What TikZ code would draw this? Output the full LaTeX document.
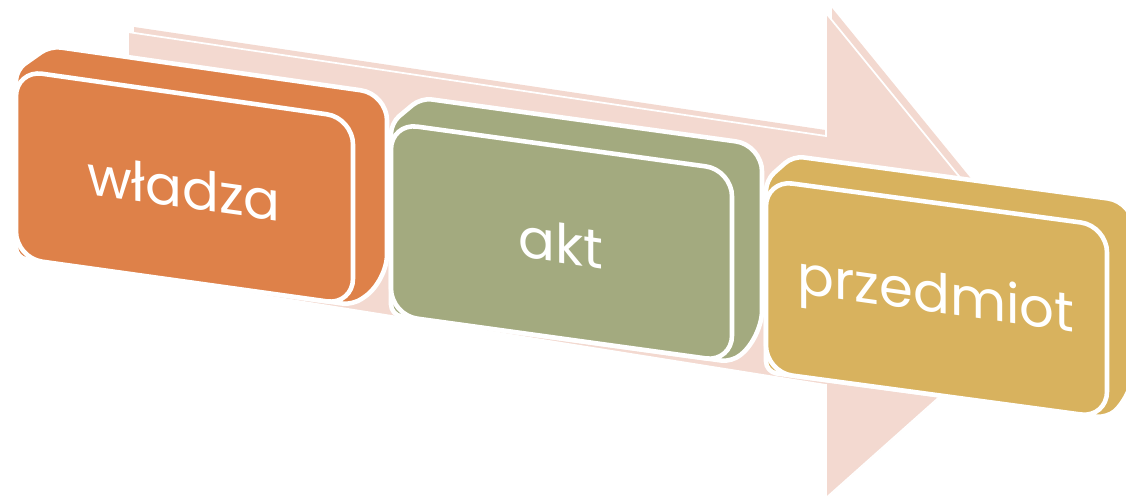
\documentclass[tikz,border=0pt]{standalone}
\usepackage{fontspec}
\setmainfont{Poppins}
\definecolor{arrowpink}{RGB}{243,217,208}
\definecolor{wladzaorange}{RGB}{222,129,73}
\definecolor{aktgreen}{RGB}{163,170,127}
\definecolor{przedmiotgold}{RGB}{216,178,94}

\begin{document}
\begin{tikzpicture}[x=0.02cm, y=-0.02cm,
  slab/.style={fill=#1, draw=white, line width=2.6pt, rounded corners=15pt, line join=round},
  boxtext/.style={text=white, font=\fontsize{31}{34}\selectfont, yslant=-0.14}]
\useasboundingbox (0,0) rectangle (1126,498);
\clip (0,0) rectangle (1126,498);

% big arrow in the background
\fill [arrowpink] (134,27) -- (832,131) -- (832,8) -- (1061,289) -- (832,493) -- (832,380) -- (134,269) -- cycle;
\draw [fill=arrowpink, draw=white, line width=1pt] (128,32) -- (826,136) -- (826,13) -- (1055,294) -- (826,498) -- (826,385) -- (128,274) -- cycle;

% władza
\draw [slab=wladzaorange] (16,258) [rounded corners=6pt] -- (16,70) -- (50,46) [rounded corners=15pt] -- (387,94) -- (387,281) [rounded corners=6pt] -- (353,305) -- cycle;
\draw [slab=wladzaorange] (16,70) -- (353,118) -- (353,305) -- (16,258) -- cycle;
\node [boxtext] (wladza) at (184,188) {władza};

% akt
\draw [slab=aktgreen] (391,315) [rounded corners=6pt] -- (391,123) -- (421,98) [rounded corners=15pt] -- (762,145) -- (762,337) [rounded corners=6pt] -- (732,362) -- cycle;
\draw [slab=aktgreen] (391,123) -- (732,170) -- (732,362) -- (391,315) -- cycle;
\node [boxtext] (akt) at (561,243) {akt};

% przedmiot
\draw [slab=przedmiotgold] (766,372) [rounded corners=6pt] -- (766,180) -- (793,156) [rounded corners=15pt] -- (1134,202) -- (1134,394) [rounded corners=6pt] -- (1107,418) -- cycle;
\draw [slab=przedmiotgold] (766,180) -- (1107,226) -- (1107,418) -- (766,372) -- cycle;
\node [boxtext] (przedmiot) at (936,299) {przedmiot};
\end{tikzpicture}
\end{document}
